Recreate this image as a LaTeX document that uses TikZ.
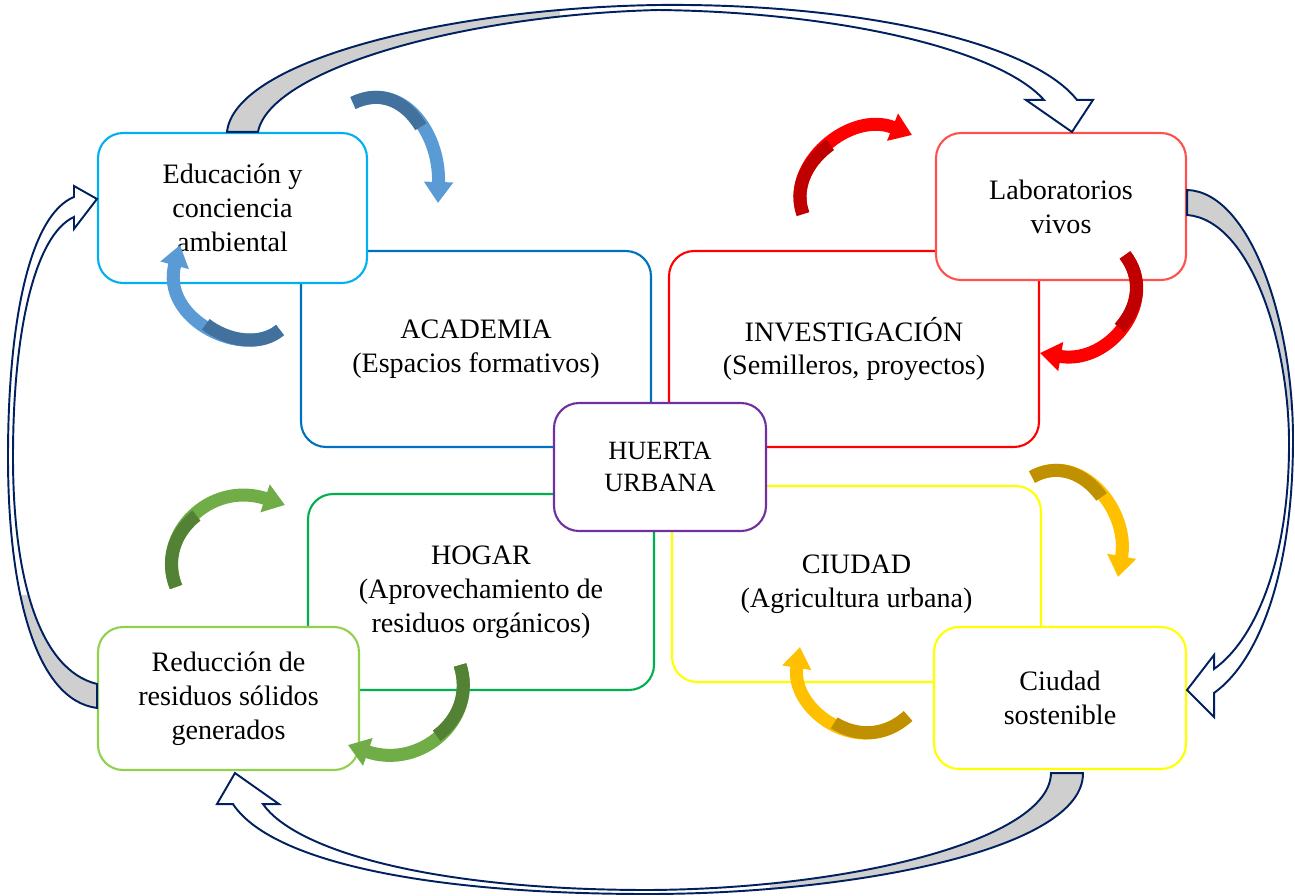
\documentclass[tikz,border=0pt]{standalone}
\usepackage{fontspec}
\setmainfont{Liberation Serif}
\usepackage{xcolor}
\usetikzlibrary{arrows.meta,calc,positioning}
\definecolor{eduC}{HTML}{00B0F0}
\definecolor{acadC}{HTML}{0070C0}
\definecolor{invC}{HTML}{FF0000}
\definecolor{labC}{HTML}{FF5050}
\definecolor{hogarC}{HTML}{00B050}
\definecolor{redC}{HTML}{92D050}
\definecolor{ciuC}{HTML}{FFFF00}
\definecolor{huertaC}{HTML}{7030A0}
\definecolor{navyC}{HTML}{002060}
\definecolor{bandC}{HTML}{CFCFCF}
\definecolor{blueA}{HTML}{5B9BD5}
\definecolor{blueD}{HTML}{41719C}
\definecolor{redA}{HTML}{FF0000}
\definecolor{redD}{HTML}{C00000}
\definecolor{greenA}{HTML}{70AD47}
\definecolor{greenD}{HTML}{548235}
\definecolor{yellowA}{HTML}{FFC000}
\definecolor{yellowD}{HTML}{BF9000}
\tikzstyle{box} = [draw, fill=white, rounded corners=0.5cm, line width=1.2pt, align=center]
\tikzstyle{bigbox} = [box, minimum height=3.92cm]
\tikzstyle{smallbox} = [box, minimum height=2.9cm]
\tikzstyle{turn} = [line width=7.4pt, -{Triangle[length=0.42cm, width=0.56cm]}]
\tikzstyle{turnback} = [line width=7.4pt, dash pattern=on 1.6cm off 30cm]
\tikzstyle{ring} = [draw=navyC, line width=1.1pt, fill=white, line join=miter]

\begin{document}
\begin{tikzpicture}[
        x=0.02cm, y=-0.02cm,
        every node/.style={font=\fontsize{16}{19.3}\selectfont, inner sep=2pt}
        ]
        \useasboundingbox (0,0) rectangle (1295,896);
        \node[bigbox, draw=acadC, minimum width=7cm] (academia) at (476,349) {ACADEMIA\\(Espacios formativos)};
        \node[bigbox, draw=invC, minimum width=7.4cm] (investigacion) at (854,349) {INVESTIGACIÓN\\(Semilleros, proyectos)};
        \node[bigbox, draw=hogarC, minimum width=6.92cm] (hogar) at (481,592) {HOGAR\\(Aprovechamiento de\\residuos orgánicos)};
        \node[bigbox, draw=ciuC, minimum width=7.38cm] (ciudad) at (856.5,584) {CIUDAD\\(Agricultura urbana)};
        \node[smallbox, draw=eduC, minimum width=5.38cm, minimum height=3cm] (educacion) at (232.5,208) {Educación y\\conciencia\\ambiental};
        \node[smallbox, draw=labC, minimum width=5cm, minimum height=2.94cm] (laboratorios) at (1061,206.5) {Laboratorios\\vivos};
        \node[smallbox, draw=redC, minimum width=5.22cm, minimum height=2.86cm] (reduccion) at (228.5,698.5) {Reducción de\\residuos sólidos\\generados};
        \node[smallbox, draw=ciuC, minimum width=5.04cm, minimum height=2.84cm] (sostenible) at (1060,698) {Ciudad\\sostenible};
        \node[box, draw=huertaC, minimum width=4.24cm, minimum height=2.56cm, font=\fontsize{15}{18}\selectfont] (huerta) at (660,467) {HUERTA\\URBANA};

        \coordinate (ringAo) at ($(educacion.north west)+(130,0)$);
        \coordinate (ringAi) at ($(educacion.north west)+(161,0)$);
        \coordinate (ringAtip) at ($(laboratorios.north west)+(137,0)$);
        \coordinate (ringBo) at ($(laboratorios.north east)+(0,58)$);
        \coordinate (ringBi) at ($(laboratorios.north east)+(0,83)$);
        \coordinate (ringBtip) at ($(sostenible.north east)+(0,64)$);
        \coordinate (ringCo) at ($(sostenible.south west)+(150,3)$);
        \coordinate (ringCi) at ($(sostenible.south west)+(118,3)$);
        \coordinate (ringCtip) at ($(reduccion.south west)+(138,2)$);
        \coordinate (ringDo) at ($(reduccion.north west)+(0,82)$);
        \coordinate (ringDi) at ($(reduccion.north west)+(0,58)$);
        \coordinate (ringDtip) at ($(educacion.north west)+(0,67)$);

        \draw[ring, path picture={\fill[bandC] (0,0) rectangle (560,140);}]
            (ringAo) .. controls (235,60) and (450,8) .. (658,5) .. controls (850,3) and (1030,40) .. ($(ringAtip)+(5,-32)$)
            -- ++(16,0) -- (ringAtip) -- ++(-46,-32) -- ++(18,0)
            .. controls (1000,50) and (840,12) .. (658,10) .. controls (460,15) and (270,70) .. (ringAi) -- cycle;
        \draw[ring, path picture={\fill[bandC] (1150,150) rectangle (1295,410);}]
            (ringBo) .. controls (1250,192) and (1293,320) .. (1293,439) .. controls (1293,570) and (1260,660) .. ($(ringBtip)+(27,3)$)
            -- ++(0,24) -- (ringBtip) -- ++(27,-35) -- ++(0,14)
            .. controls (1255,640) and (1290,560) .. (1289,439) .. controls (1288,340) and (1250,220) .. (ringBi) -- cycle;
        \draw[ring, path picture={\fill[bandC] (770,760) rectangle (1100,896);}]
            (ringCo) .. controls (1084,850) and (850,894) .. (648,894) .. controls (420,894) and (270,860) .. ($(ringCtip)+(-2,31)$)
            -- ++(-16,0) -- (ringCtip) -- ++(44,31) -- ++(-16,0)
            .. controls (295,850) and (430,890) .. (648,890) .. controls (850,889) and (1050,840) .. (ringCi) -- cycle;
        \draw[ring, path picture={\fill[bandC] (0,595) rectangle (110,720);}]
            (ringDo) .. controls (35,700) and (8,590) .. (8,457) .. controls (8,320) and (30,215) .. ($(ringDtip)+(-23,-2)$)
            -- ++(0,-11) -- (ringDtip) -- ++(-23,30) -- ++(0,-12)
            .. controls (35,235) and (13,330) .. (13,457) .. controls (13,580) and (40,670) .. (ringDi) -- cycle;

        \draw[turn, blueA] (353,103) .. controls (400,80) and (440,130) .. (438,203);
        \draw[turnback, blueD] (353,103) .. controls (400,80) and (440,130) .. (438,203);
        \draw[turn, blueA] (280,330) .. controls (245,360) and (160,320) .. (180,245);
        \draw[turnback, blueD] (280,330) .. controls (245,360) and (160,320) .. (180,245);
        \draw[turn, redA] (803,214) .. controls (785,165) and (850,110) .. (912,135);
        \draw[turnback, redD] (803,214) .. controls (785,165) and (850,110) .. (912,135);
        \draw[turn, redA] (1125,255) .. controls (1160,300) and (1110,365) .. (1040,353);
        \draw[turnback, redD] (1125,255) .. controls (1160,300) and (1110,365) .. (1040,353);
        \draw[turn, greenA] (176,587) .. controls (155,535) and (210,480) .. (285,505);
        \draw[turnback, greenD] (176,587) .. controls (155,535) and (210,480) .. (285,505);
        \draw[turn, greenA] (460,665) .. controls (478,720) and (420,770) .. (348,745);
        \draw[turnback, greenD] (460,665) .. controls (478,720) and (420,770) .. (348,745);
        \draw[turn, yellowA] (1032,477) .. controls (1080,450) and (1130,510) .. (1118,577);
        \draw[turnback, yellowD] (1032,477) .. controls (1080,450) and (1130,510) .. (1118,577);
        \draw[turn, yellowA] (908,716) .. controls (860,760) and (790,710) .. (800,647);
        \draw[turnback, yellowD] (908,716) .. controls (860,760) and (790,710) .. (800,647);
    \end{tikzpicture}
\end{document}
